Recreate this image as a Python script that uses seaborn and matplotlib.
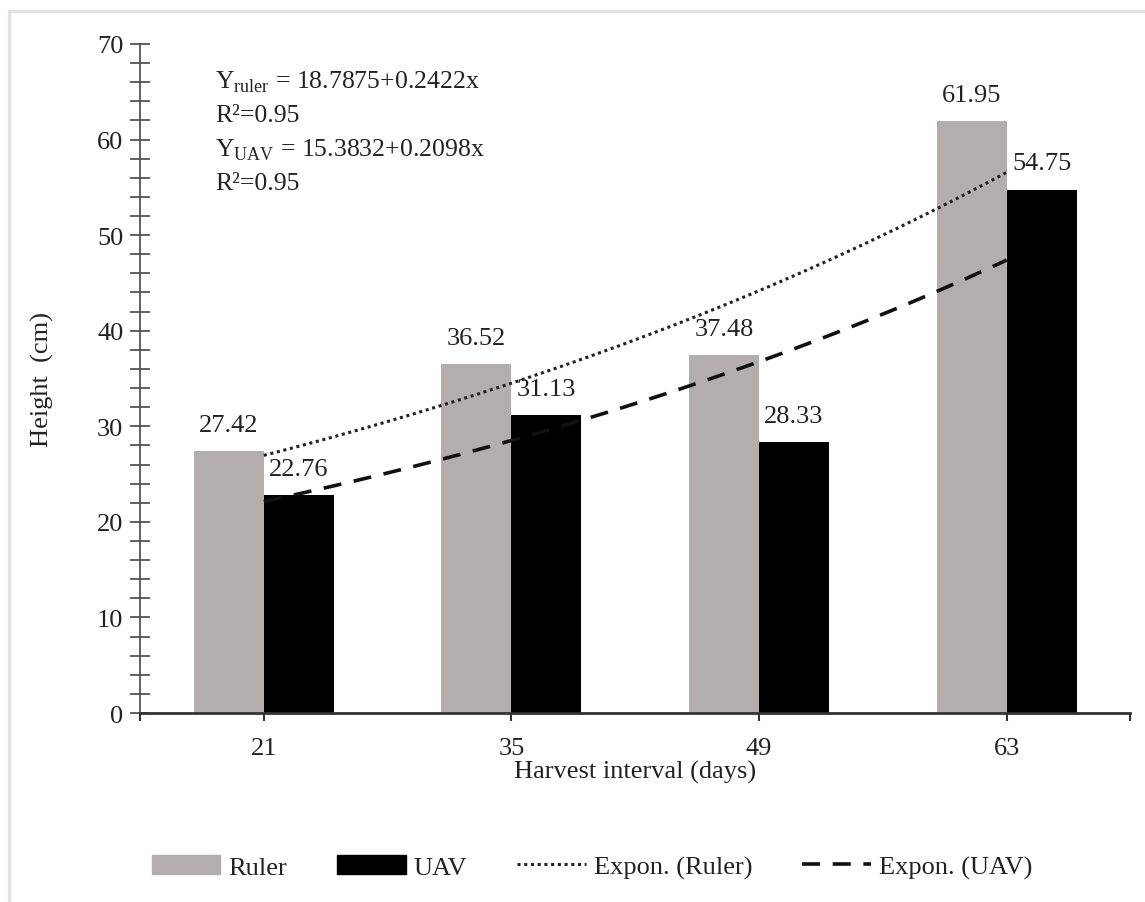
import numpy as np
import pandas as pd
import matplotlib
matplotlib.use("Agg")
import matplotlib.pyplot as plt
import seaborn as sns
from matplotlib.patches import Rectangle
from matplotlib.ticker import MultipleLocator

# --- data ---
INTERVALS = ["21", "35", "49", "63"]
RULER = [27.42, 36.52, 37.48, 61.95]
UAV = [22.76, 31.13, 28.33, 54.75]
EQ_LINES = [r"Y$_{\mathregular{ruler}}$ = 18.7875+0.2422x", "R²=0.95",
            r"Y$_{\mathregular{UAV}}$ = 15.3832+0.2098x", "R²=0.95"]

RULER_COLOR = "#b3adad"
UAV_COLOR = "#000000"

sns.set_theme(style="white")
plt.rcParams["font.family"] = ["Liberation Serif", "DejaVu Serif"]
plt.rcParams["mathtext.fontset"] = "custom"
plt.rcParams["mathtext.rm"] = "Liberation Serif"

df = pd.DataFrame({
    "interval": INTERVALS * 2,
    "height": RULER + UAV,
    "method": ["Ruler"] * 4 + ["UAV"] * 4,
})

fig = plt.figure(figsize=(11.45, 9.03), dpi=100)
ax = fig.add_axes([0.1223, 0.2093, 0.865, 0.7409])

sns.barplot(data=df, x="interval", y="height", hue="method",
            palette=[RULER_COLOR, UAV_COLOR], width=0.565, gap=0,
            linewidth=0, saturation=1, errorbar=None, ax=ax, legend=False)

for cont in ax.containers:
    ax.bar_label(cont, fmt="%.2f", padding=11, fontsize=19, color="#222222")

# exponential trendlines (Excel style, x = 1..4)
xs = np.arange(1, len(INTERVALS) + 1)
xf = np.linspace(1, len(INTERVALS), 120)
b_r, lna_r = np.polyfit(xs, np.log(RULER), 1)
b_u, lna_u = np.polyfit(xs, np.log(UAV), 1)
line_r, = ax.plot(xf - 1, np.exp(lna_r + b_r * xf), color="#222222", lw=2.2,
                  linestyle=(0, (1, 1.2)))
line_u, = ax.plot(xf - 1, np.exp(lna_u + b_u * xf), color="#111111", lw=2.6,
                  linestyle=(0, (5, 3.5)))

ax.set_xlim(-0.5, 3.5)
ax.set_ylim(0, 70)
ax.yaxis.set_major_locator(MultipleLocator(10))
ax.yaxis.set_minor_locator(MultipleLocator(2))
ax.tick_params(axis="y", which="both", direction="inout", length=14,
               width=1.3, color="#555555", left=True, labelsize=19,
               labelcolor="#222222", pad=5)
ax.set_xticks(range(4))
ax.set_xticks([-0.5, 3.5], minor=True)
ax.tick_params(axis="x", which="both", direction="out", length=6,
               width=1.5, color="#333333", bottom=True, labelsize=19,
               labelcolor="#222222", pad=11)

for side in ["top", "right"]:
    ax.spines[side].set_visible(False)
ax.spines["left"].set_color("#555555")
ax.spines["left"].set_linewidth(1.3)
ax.spines["bottom"].set_color("#333333")
ax.spines["bottom"].set_linewidth(2)

ax.set_xlabel("Harvest interval (days)", fontsize=19, color="#222222", labelpad=1)
ax.set_ylabel("Height  (cm)", fontsize=19, color="#222222", labelpad=31)

for i, line in enumerate(EQ_LINES):
    ax.text(0.076, 0.944 - i * 0.0505, line, transform=ax.transAxes,
            fontsize=18.5, color="#222222", va="center", ha="left")

handles = [Rectangle((0, 0), 1, 1, color=RULER_COLOR),
           Rectangle((0, 0), 1, 1, color=UAV_COLOR), line_r, line_u]
labels = ["Ruler", "UAV", "Expon. (Ruler)", "Expon. (UAV)"]
fig.legend(handles, labels, loc="center", bbox_to_anchor=(0.517, 0.039),
           ncol=4, frameon=False, fontsize=19, handlelength=2.6,
           handleheight=0.75, handletextpad=0.3, columnspacing=1.9,
           labelcolor="#222222")

# light frame around the picture
fig.patches.append(Rectangle((0.008, -0.1), 1.2, 1.087, transform=fig.transFigure,
                             fill=False, edgecolor="#e3e3e3", linewidth=2.5))

fig.savefig("out.png", dpi=100)
